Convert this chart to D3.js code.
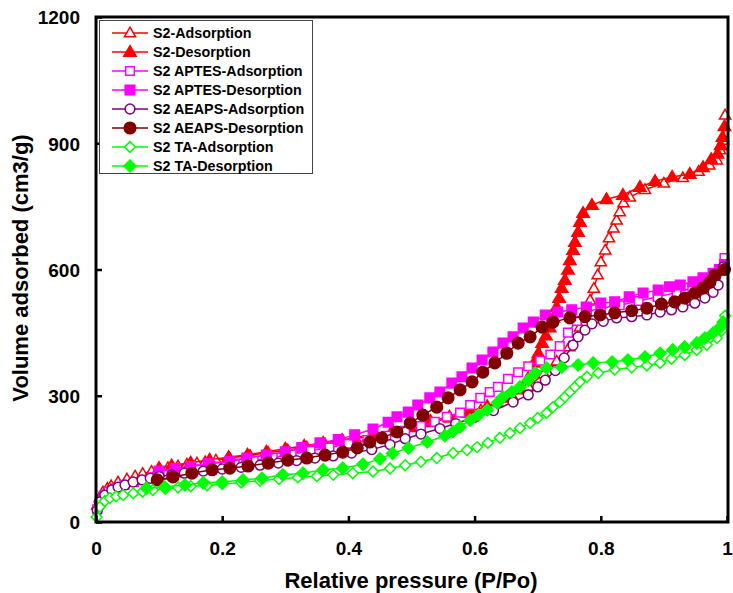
<!DOCTYPE html>
<html>
<head>
<meta charset="utf-8">
<script src="https://cdnjs.cloudflare.com/ajax/libs/d3/7.8.5/d3.min.js"></script>
<style>
  html, body { margin: 0; padding: 0; background: #fff; }
  svg { display: block; font-family: "Liberation Sans", Arial, sans-serif; }
</style>
</head>
<body>
<svg id="chart" width="733" height="593"></svg>
<script>
// Nitrogen isotherms: [relative pressure, volume adsorbed]
const s2Ads = [[0.002,40],[0.006,58],[0.011,71],[0.018,80],[0.024,86],[0.035,95],[0.049,102],[0.062,109],[0.074,115],[0.088,120],[0.101,125],[0.114,129],[0.13,133],[0.144,137],[0.16,140],[0.173,143],[0.19,147],[0.212,152],[0.244,158],[0.273,165],[0.304,171],[0.334,178],[0.363,185],[0.39,192],[0.41,198],[0.44,205],[0.47,214],[0.5,224],[0.53,236],[0.56,247],[0.59,258],[0.61,266],[0.635,283],[0.66,298],[0.685,322],[0.71,352],[0.73,382],[0.75,416],[0.767,463],[0.783,527],[0.789,555],[0.795,587],[0.8,618],[0.807,646],[0.813,675],[0.82,698],[0.825,717],[0.83,737],[0.836,758],[0.846,772],[0.87,790],[0.9,805],[0.93,818],[0.955,833],[0.972,848],[0.984,860],[0.989,884],[0.994,907],[0.997,967]];
const s2Des = [[0.996,940],[0.993,915],[0.99,895],[0.985,875],[0.975,862],[0.962,843],[0.941,827],[0.913,820],[0.886,810],[0.862,796],[0.835,777],[0.809,767],[0.786,753],[0.772,734],[0.767,713],[0.764,689],[0.759,665],[0.756,646],[0.751,622],[0.748,599],[0.743,575],[0.738,556],[0.734,532],[0.73,511],[0.725,485],[0.719,462],[0.713,443],[0.707,425],[0.701,401],[0.694,378],[0.685,342],[0.67,315],[0.65,295],[0.62,275],[0.59,262],[0.56,250],[0.53,240],[0.5,228],[0.47,218],[0.44,208],[0.41,200],[0.39,195],[0.36,188],[0.33,181],[0.3,174],[0.27,167],[0.24,160],[0.21,154],[0.18,148],[0.15,141],[0.12,134],[0.1,128]];
const aptesAds = [[0.002,30],[0.006,48],[0.012,62],[0.02,72],[0.03,80],[0.045,88],[0.06,95],[0.075,100],[0.09,106],[0.11,112],[0.13,118],[0.16,125],[0.19,132],[0.22,139],[0.25,146],[0.28,153],[0.31,161],[0.34,169],[0.37,177],[0.4,186],[0.43,195],[0.46,205],[0.49,217],[0.515,228],[0.537,238],[0.556,250],[0.577,260],[0.593,278],[0.609,295],[0.624,309],[0.637,321],[0.653,340],[0.669,356],[0.685,370],[0.704,383],[0.72,398],[0.735,418],[0.748,450],[0.762,478],[0.778,500],[0.8,508],[0.83,515],[0.86,525],[0.89,535],[0.92,545],[0.945,556],[0.965,568],[0.98,583],[0.99,600],[0.996,627]];
const aptesDes = [[0.996,612],[0.988,600],[0.978,591],[0.962,580],[0.946,571],[0.926,563],[0.909,559],[0.891,551],[0.867,544],[0.845,535],[0.822,523],[0.8,520],[0.777,511],[0.754,504],[0.732,499],[0.712,492],[0.693,475],[0.677,461],[0.661,440],[0.645,425],[0.629,404],[0.612,385],[0.596,366],[0.58,345],[0.564,330],[0.545,309],[0.529,295],[0.51,278],[0.495,261],[0.477,250],[0.463,237],[0.439,221],[0.41,207],[0.384,196],[0.355,188],[0.326,177],[0.3,167],[0.27,159],[0.239,152],[0.212,144],[0.178,138],[0.15,132],[0.125,127],[0.1,121]];
const aeapsAds = [[0.002,28],[0.006,48],[0.014,64],[0.025,76],[0.035,83],[0.046,88],[0.059,95],[0.073,100],[0.086,104],[0.1,108],[0.12,112],[0.14,116],[0.17,121],[0.2,126],[0.23,130],[0.26,135],[0.289,140],[0.318,146],[0.347,152],[0.376,157],[0.405,164],[0.437,172],[0.466,184],[0.49,198],[0.515,209],[0.545,222],[0.57,234],[0.6,249],[0.63,265],[0.661,285],[0.685,302],[0.7,321],[0.712,337],[0.728,360],[0.742,390],[0.756,420],[0.764,440],[0.775,456],[0.786,471],[0.804,477],[0.825,485],[0.849,488],[0.873,492],[0.894,499],[0.912,504],[0.93,511],[0.949,520],[0.965,532],[0.978,546],[0.986,563],[0.994,606]];
const aeapsDes = [[0.996,600],[0.981,587],[0.973,570],[0.962,556],[0.949,544],[0.933,532],[0.917,523],[0.896,518],[0.873,508],[0.849,502],[0.822,497],[0.799,492],[0.775,488],[0.751,485],[0.724,475],[0.707,463],[0.688,440],[0.669,425],[0.651,401],[0.632,378],[0.613,356],[0.596,333],[0.577,314],[0.558,295],[0.54,273],[0.518,254],[0.498,235],[0.477,214],[0.453,200],[0.434,190],[0.414,176],[0.391,166],[0.363,159],[0.334,152],[0.304,147],[0.273,140],[0.241,133],[0.212,128],[0.184,124],[0.152,116],[0.122,107],[0.097,100]];
const taAds = [[0.001,12],[0.006,36],[0.014,50],[0.022,57],[0.032,61],[0.043,64],[0.059,68],[0.074,72],[0.09,76],[0.11,79],[0.13,82],[0.15,85],[0.176,87],[0.2,90],[0.23,94],[0.26,98],[0.29,102],[0.32,106],[0.35,109],[0.376,112],[0.407,116],[0.439,120],[0.466,127],[0.49,135],[0.515,143],[0.54,152],[0.566,164],[0.588,171],[0.604,178],[0.621,188],[0.64,200],[0.656,211],[0.672,223],[0.688,235],[0.7,247],[0.714,259],[0.724,273],[0.735,285],[0.743,297],[0.751,309],[0.759,321],[0.767,333],[0.778,345],[0.796,354],[0.822,362],[0.849,367],[0.873,372],[0.894,378],[0.912,388],[0.933,397],[0.952,409],[0.968,421],[0.984,437],[0.992,455],[0.997,490]];
const taDes = [[0.994,475],[0.989,463],[0.978,449],[0.965,437],[0.952,425],[0.933,416],[0.914,409],[0.894,401],[0.87,392],[0.843,385],[0.818,380],[0.788,378],[0.764,373],[0.738,368],[0.714,366],[0.696,354],[0.685,337],[0.672,321],[0.659,309],[0.645,297],[0.636,283],[0.62,266],[0.606,254],[0.593,242],[0.577,226],[0.566,215],[0.553,205],[0.525,190],[0.495,176],[0.47,163],[0.45,150],[0.423,137],[0.391,128],[0.36,124],[0.328,116],[0.296,112],[0.263,104],[0.233,100],[0.2,95],[0.17,93],[0.141,88],[0.109,83],[0.08,80]];

const xTicks = [0, 0.2, 0.4, 0.6, 0.8, 1];
const xTickLabels = ["0", "0.2", "0.4", "0.6", "0.8", "1"];
const yTicks = [0, 300, 600, 900, 1200];

const seriesNames = ["S2-Adsorption","S2-Desorption","S2 APTES-Adsorption","S2 APTES-Desorption","S2 AEAPS-Adsorption","S2 AEAPS-Desorption","S2 TA-Adsorption","S2 TA-Desorption"];
const seriesData = [s2Ads, s2Des, aptesAds, aptesDes, aeapsAds, aeapsDes, taAds, taDes];
const seriesColors = ["#ff0000","#ff0000","#ff00ff","#ff00ff","#800080","#800000","#00ff00","#00ff00"];
const seriesShapes = ["triangle","triangle","square","square","circle","circle","diamond","diamond"];
const seriesFilled = [false,true,false,true,false,true,false,true];

// ---- drawing ----
const svg = d3.select("#chart");
const plotL = 96, plotR = 727, plotT = 17, plotB = 522;
const x = d3.scaleLinear().domain([0, 1]).range([plotL, plotR]);
const y = d3.scaleLinear().domain([0, 1200]).range([plotB, plotT]);

function shapePath(shape, filled) {
  switch (shape) {
    case "triangle": { const w = filled ? 6.2 : 5.6, h = filled ? 10.5 : 9.6;
      return `M0,${-h*0.6}L${w},${h*0.4}L${-w},${h*0.4}Z`; }
    case "square": { const s = filled ? 4.8 : 4.3; return `M${-s},${-s}H${s}V${s}H${-s}Z`; }
    case "circle": { const r = filled ? 5.8 : 4.9;
      return `M${r},0A${r},${r} 0 1,1 ${-r},0A${r},${r} 0 1,1 ${r},0Z`; }
    case "diamond": { const d = filled ? 6 : 5.4; return `M0,${-d}L${d},0L0,${d}L${-d},0Z`; }
  }
}

const line = d3.line().x(d => x(d[0])).y(d => y(d[1]));
const plot = svg.append("g");

seriesData.forEach((data, i) => {
  const g = plot.append("g");
  g.append("path").datum(data).attr("d", line)
    .attr("fill", "none").attr("stroke", seriesColors[i]).attr("stroke-width", 1.5);
  g.selectAll("path.m").data(data).join("path").attr("class", "m")
    .attr("transform", d => `translate(${x(d[0])},${y(d[1])})`)
    .attr("d", shapePath(seriesShapes[i], seriesFilled[i]))
    .attr("fill", seriesFilled[i] ? seriesColors[i] : "#fff")
    .attr("stroke", seriesColors[i]).attr("stroke-width", 1.5);
});

// axes
const xAxis = d3.axisBottom(x).tickValues(xTicks).tickFormat((d, i) => xTickLabels[i]).tickSizeInner(-6).tickSizeOuter(0).tickPadding(20);
const yAxis = d3.axisLeft(y).tickValues(yTicks).tickFormat(d3.format("d")).tickSizeInner(-6).tickSizeOuter(0).tickPadding(16);
const gx = svg.append("g").attr("transform", `translate(0,${plotB})`).call(xAxis);
const gy = svg.append("g").attr("transform", `translate(${plotL},0)`).call(yAxis);
[gx, gy].forEach(g => {
  g.select(".domain").remove();
  g.selectAll(".tick line").attr("stroke", "#000").attr("stroke-width", 2.5);
  g.selectAll(".tick text").attr("fill", "#000").style("font-size", "19px").style("font-weight", "bold")
   .style("font-family", "'Liberation Sans', Arial, sans-serif");
});
gy.selectAll(".tick text").attr("dy", "0.36em");

// frame
svg.append("rect").attr("x", plotL).attr("y", plotT).attr("width", plotR - plotL + 1).attr("height", plotB - plotT)
  .attr("fill", "none").attr("stroke", "#000").attr("stroke-width", 3);

// axis titles
svg.append("text").attr("x", 411).attr("y", 588).attr("text-anchor", "middle")
  .style("font-size", "22px").style("font-weight", "bold").text("Relative pressure (P/Po)");
svg.append("text").attr("transform", `translate(28,268) rotate(-90)`).attr("text-anchor", "middle")
  .style("font-size", "22px").style("font-weight", "bold").text("Volume adsorbed (cm3/g)");

// legend
const lg = svg.append("g");
lg.append("rect").attr("x", 99.5).attr("y", 20.5).attr("width", 213).attr("height", 153)
  .attr("fill", "#fff").attr("stroke", "#444").attr("stroke-width", 1);
seriesNames.forEach((name, i) => {
  const cy = 33 + i * 19;
  lg.append("line").attr("x1", 112).attr("x2", 148).attr("y1", cy).attr("y2", cy)
    .attr("stroke", seriesColors[i]).attr("stroke-width", 1.5);
  lg.append("path").attr("transform", `translate(130,${cy})`)
    .attr("d", shapePath(seriesShapes[i], seriesFilled[i]))
    .attr("fill", seriesFilled[i] ? seriesColors[i] : "#fff")
    .attr("stroke", seriesColors[i]).attr("stroke-width", 1.5);
  lg.append("text").attr("x", 153).attr("y", cy).attr("dy", "0.36em")
    .style("font-size", "14.3px").style("font-weight", "bold").text(name);
});
</script>
</body>
</html>
